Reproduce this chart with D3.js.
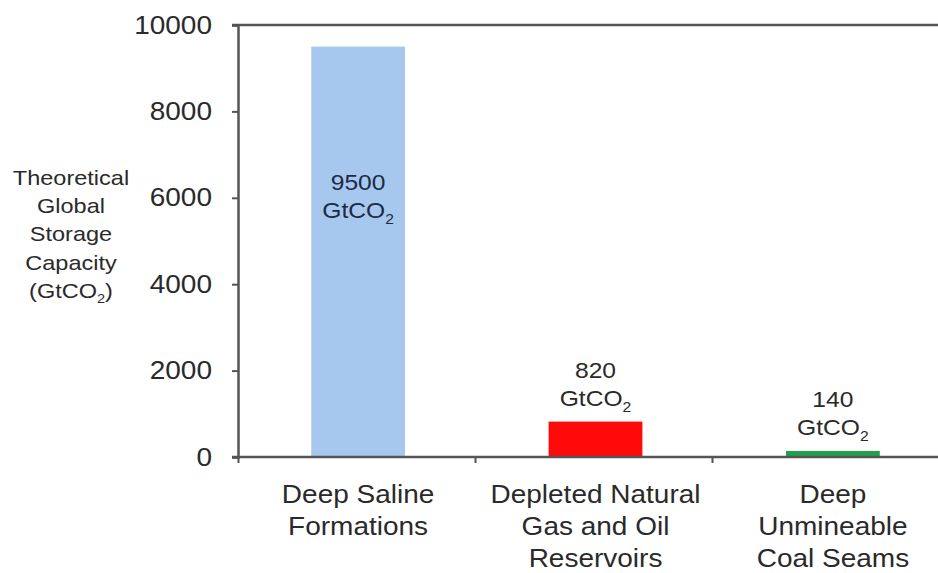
<!DOCTYPE html>
<html><head><meta charset="utf-8">
<script src="https://cdn.jsdelivr.net/npm/d3@7"></script>
<style>
html,body{margin:0;padding:0;background:#fff;}
svg{display:block;font-family:"Liberation Sans",Arial,sans-serif;}
</style></head>
<body>
<svg id="chart" width="938" height="573"></svg>
<script>
const categories = [
  ["Deep Saline", "Formations"],
  ["Depleted Natural", "Gas and Oil", "Reservoirs"],
  ["Deep", "Unmineable", "Coal Seams"]
];
const values = [9500, 820, 140];
const valueLabels = ["9500", "820", "140"];
const barColors = ["#a7c8ee", "#ff0a0a", "#23a04b"];
const yTicks = [0, 2000, 4000, 6000, 8000, 10000];
const yTitle = ["Theoretical", "Global", "Storage", "Capacity"];

const SX = 1.12; // horizontal stretch of the text
const TXT = "#2a2a2a";
const svg = d3.select("#chart");
const x0 = 238, x1 = 949, yTop = 25, yBot = 457;

const x = d3.scaleBand().domain(d3.range(categories.length)).range([x0 + 2, x1 + 2]).paddingInner(0.605).paddingOuter(0.3);
const y = d3.scaleLinear().domain([0, 10000]).range([yBot, yTop]);

function stretchedText(cx, cy, size, color) {
  return svg.append("text")
    .attr("transform", `translate(${cx},${cy}) scale(${SX},1)`)
    .attr("text-anchor", "middle").attr("font-size", size).attr("fill", color);
}

// top border line
svg.append("line").attr("x1", x0 - 6).attr("x2", 938).attr("y1", yTop).attr("y2", yTop)
  .attr("stroke", "#555").attr("stroke-width", 2.5);

// bars
svg.selectAll("rect.bar").data(values).join("rect").attr("class", "bar")
  .attr("x", (d, i) => x(i)).attr("width", x.bandwidth())
  .attr("y", d => y(d)).attr("height", d => yBot - y(d))
  .attr("fill", (d, i) => barColors[i]);

// y axis
const yAxis = svg.append("g").attr("transform", `translate(${x0},0)`)
  .call(d3.axisLeft(y).tickValues(yTicks).tickSize(6).tickPadding(20).tickFormat(d3.format("d")));
yAxis.select(".domain").attr("stroke", "#555").attr("stroke-width", 2.5);
yAxis.selectAll(".tick line").attr("stroke", "#555").attr("stroke-width", 2);
yAxis.selectAll(".tick text")
  .attr("font-size", 25).attr("fill", TXT).attr("font-family", "Liberation Sans, Arial, sans-serif")
  .attr("x", -26 / SX).attr("transform", `scale(${SX},1)`);

// x axis
const xTickScale = d3.scaleLinear().domain([0, 3]).range([x0, x1]);
const xAxis = svg.append("g").attr("transform", `translate(0,${yBot})`)
  .call(d3.axisBottom(xTickScale).tickValues([0, 1, 2]).tickSize(6).tickFormat(""));
xAxis.select(".domain").attr("stroke", "#555").attr("stroke-width", 2.5).attr("d", `M${x0 - 6},0H938`);
xAxis.selectAll(".tick line").attr("stroke", "#555").attr("stroke-width", 2);

// category labels
categories.forEach((lines, i) => {
  const cx = x(i) + x.bandwidth() / 2;
  lines.forEach((l, j) => stretchedText(cx, 503 + j * 32, 25, TXT).text(l));
});

// value labels
values.forEach((v, i) => {
  const cx = x(i) + x.bandwidth() / 2;
  const inside = i === 0;
  const yy = inside ? 190 : y(v) - 44;
  const col = inside ? "#1c2b45" : TXT;
  stretchedText(cx, yy, 22, col).text(valueLabels[i]);
  const t = stretchedText(cx, yy + 28, 22, col);
  t.append("tspan").text("GtCO");
  t.append("tspan").attr("font-size", 14).attr("dy", 6).text("2");
});

// y title
yTitle.forEach((l, j) => stretchedText(71, 185 + j * 28.2, 21, TXT).text(l));
const last = stretchedText(71, 185 + 4 * 28.2, 21, TXT);
last.append("tspan").text("(GtCO");
last.append("tspan").attr("font-size", 13).attr("dy", 5).text("2");
last.append("tspan").attr("dy", -5).text(")");
</script>
</body></html>
